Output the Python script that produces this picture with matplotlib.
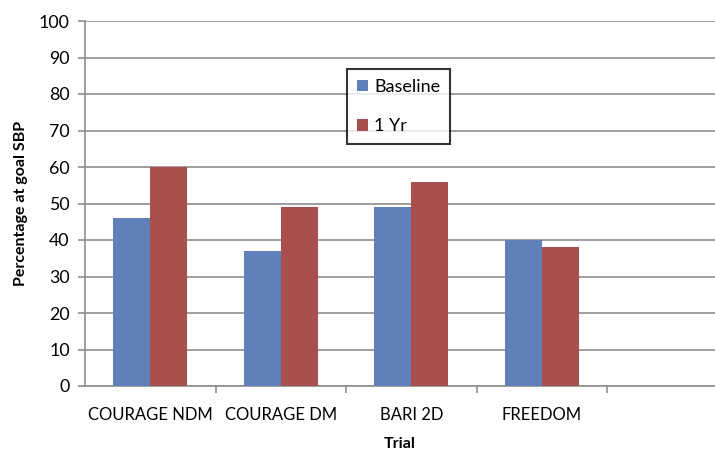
import matplotlib.pyplot as plt
import numpy as np

plt.rcParams['font.family'] = ['Lato', 'DejaVu Sans']

trials = ["COURAGE NDM", "COURAGE DM", "BARI 2D", "FREEDOM"]
baseline = [46, 37, 49, 40]
one_yr = [60, 49, 56, 38]

fig = plt.figure(figsize=(7.15, 4.51), dpi=100)
ax = fig.add_axes([85 / 715, 65 / 451, 630 / 715, 365 / 451])

x = np.arange(len(trials))
w = 0.285
ax.bar(x - w / 2, baseline, w, color="#6080BC", label="Baseline", zorder=3)
ax.bar(x + w / 2, one_yr, w, color="#A9504E", label="1 Yr", zorder=3)

ax.set_ylim(0, 100)
ax.set_xlim(-0.5, 630 / 130.5 - 0.5)
ax.set_yticks(np.arange(0, 101, 10))
ax.yaxis.grid(True, color="#8E8E8E", linewidth=1.2, zorder=0)

ax.set_xticks(x)
ax.set_xticklabels(trials)
ax.set_xticks(np.arange(len(trials)) + 0.5, minor=True)
ax.tick_params(axis="x", which="major", length=0, pad=15, labelsize=12)
ax.tick_params(axis="x", which="minor", length=5, color="#8E8E8E", width=1.2)
ax.tick_params(axis="y", length=5, color="#8E8E8E", width=1.2, labelsize=12.8, pad=6)

for s in ["top", "right"]:
    ax.spines[s].set_visible(False)
for s in ["left", "bottom"]:
    ax.spines[s].set_color("#8E8E8E")
    ax.spines[s].set_linewidth(1.2)

ax.set_ylabel("Percentage at goal SBP", fontsize=11.5, fontweight="bold", labelpad=8)
ax.set_xlabel("Trial", fontsize=11.5, fontweight="bold", labelpad=10)

leg = ax.legend(loc="upper left", bbox_to_anchor=(262 / 630, (386 - 69) / 365),
                frameon=True, fancybox=False, edgecolor="black", fontsize=13,
                handlelength=0.6, handleheight=0.6, handletextpad=0.35,
                labelspacing=1.3, borderpad=0.55, borderaxespad=0)
leg.get_frame().set_linewidth(1.5)

fig.savefig("out.png", dpi=100)
